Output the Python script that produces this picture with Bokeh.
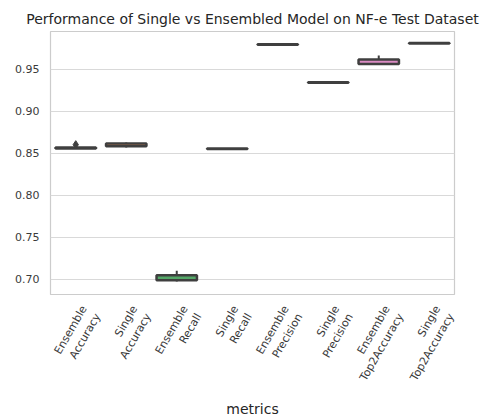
import math
from bokeh.plotting import figure
from bokeh.models import ColumnDataSource, Range1d, Title, LinearAxis, FixedTicker
from bokeh.embed import file_html
from bokeh.resources import INLINE

metrics = ["Ensemble\nAccuracy", "Single\nAccuracy", "Ensemble\nRecall", "Single\nRecall",
           "Ensemble\nPrecision", "Single\nPrecision", "Ensemble\nTop2Accuracy", "Single\nTop2Accuracy"]
low_whisker = [0.8555, 0.8570, 0.6975, 0.8550, 0.9793, 0.9340, 0.9555, 0.9808]
q1 =          [0.8560, 0.8585, 0.6990, 0.8553, 0.9795, 0.9342, 0.9565, 0.9810]
median =      [0.8565, 0.8600, 0.7015, 0.8556, 0.9797, 0.9345, 0.9595, 0.9813]
q3 =          [0.8570, 0.8620, 0.7050, 0.8559, 0.9800, 0.9348, 0.9620, 0.9816]
high_whisker =[0.8575, 0.8630, 0.7105, 0.8562, 0.9810, 0.9350, 0.9665, 0.9818]
flier_metric = ["Ensemble\nAccuracy"]
flier_value = [0.8605]
colors = ["#4c72b0", "#dd8452", "#55a868", "#c44e52", "#8172b3", "#937860", "#da8bc3", "#8c8c8c"]
y_ticks = [0.70, 0.75, 0.80, 0.85, 0.90, 0.95]

edge = "#3f3f3f"
n = len(metrics)
pos = {m: i + 0.5 for i, m in enumerate(metrics)}   # category slot centres

p = figure(x_range=Range1d(0, n), y_range=Range1d(0.6821, 0.9952),
           frame_width=404, frame_height=263, output_backend="svg", toolbar_location=None,
           min_border_left=50, min_border_right=34, min_border_top=31, min_border_bottom=110)

src = ColumnDataSource(dict(x=[pos[m] for m in metrics], lw=low_whisker, q1=q1, med=median,
                            q3=q3, hw=high_whisker, c=colors))

# whiskers
p.segment(x0="x", y0="q3", x1="x", y1="hw", source=src, line_color=edge, line_width=2)
p.segment(x0="x", y0="lw", x1="x", y1="q1", source=src, line_color=edge, line_width=2)
# boxes
p.vbar(x="x", width=0.8, bottom="q1", top="q3", source=src, fill_color="c",
       line_color=edge, line_width=2.5)
# caps
p.rect(x="x", y="hw", width=0.4, height=0, source=src, line_color=edge, line_width=2, fill_alpha=0)
p.rect(x="x", y="lw", width=0.4, height=0, source=src, line_color=edge, line_width=2, fill_alpha=0)
# medians
p.rect(x="x", y="med", width=0.8, height=0, source=src, line_color=edge, line_width=2, fill_alpha=0)
# fliers
p.scatter(x=[pos[m] for m in flier_metric], y=flier_value, marker="diamond", size=8,
          fill_color=edge, line_color=edge)

p.title = Title(text="Performance of Single vs Ensembled Model on NF-e Test Dataset",
                align="center", text_font="DejaVu Sans", text_font_size="14px",
                text_font_style="normal", text_color="#262626", standoff=9)

# hide the default x axis; tick labels on a slightly shifted companion axis (matplotlib-like centering)
p.xaxis.visible = False
shift = 0.3
p.extra_x_ranges = {"lab": Range1d(-shift, n - shift)}
lab_axis = LinearAxis(x_range_name="lab",
                      ticker=FixedTicker(ticks=[pos[m] for m in metrics]),
                      major_label_overrides={pos[m]: m for m in metrics})
p.add_layout(lab_axis, "below")

p.yaxis.ticker = y_ticks
p.yaxis.major_label_overrides = {t: f"{t:.2f}" for t in y_ticks}
for ax in (lab_axis, p.yaxis[0]):
    ax.axis_line_color = None
    ax.major_tick_line_color = None
    ax.minor_tick_line_color = None
    ax.major_label_text_font = "DejaVu Sans"
    ax.major_label_text_font_size = "11px"
    ax.major_label_text_color = "#3a3a3a"
lab_axis.major_label_orientation = math.pi / 3
lab_axis.major_label_standoff = 10
lab_axis.axis_label = "metrics"
lab_axis.axis_label_text_font = "DejaVu Sans"
lab_axis.axis_label_text_font_size = "14px"
lab_axis.axis_label_text_font_style = "normal"
lab_axis.axis_label_text_color = "#262626"
lab_axis.axis_label_standoff = 8

p.xgrid.grid_line_color = None
p.ygrid.grid_line_color = "#d9d9d9"
p.ygrid.grid_line_width = 1
p.outline_line_color = "#cccccc"
p.outline_line_width = 1.2
p.background_fill_color = "white"
p.border_fill_color = "white"

open("out.html", "w").write(file_html(p, INLINE))
